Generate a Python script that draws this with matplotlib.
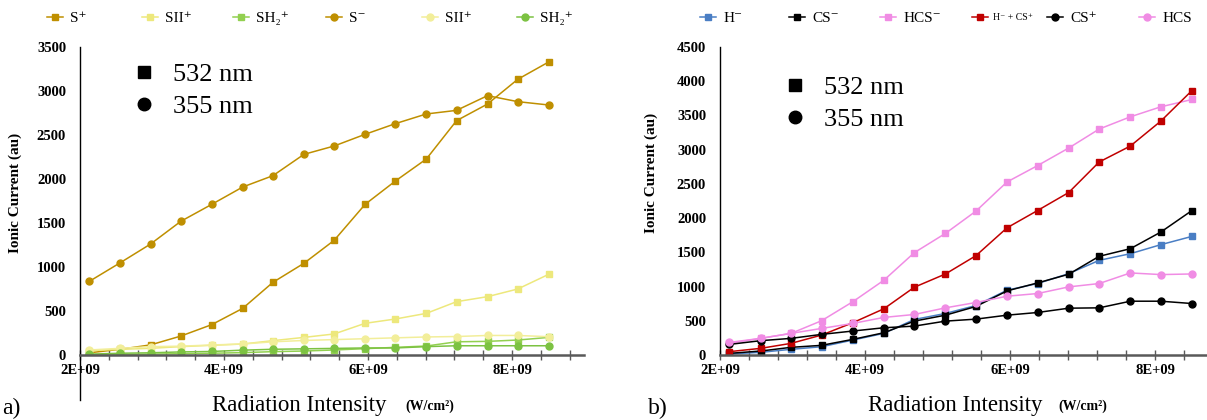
import numpy as np
import matplotlib
matplotlib.use("Agg")
import matplotlib.pyplot as plt
from matplotlib.lines import Line2D
from matplotlib.ticker import FixedLocator, MultipleLocator

plt.rcParams['font.family'] = ['Liberation Serif', 'DejaVu Serif']

# Radiation intensity (W/cm2), same 16 points in both panels
intensity = np.array([2.13, 2.56, 2.98, 3.40, 3.83, 4.26, 4.68, 5.11,
                      5.53, 5.96, 6.38, 6.81, 7.23, 7.66, 8.08, 8.51]) * 1e9

# panel a) - ionic current (au)
s_532 = [25, 65, 115, 215, 345, 530, 826, 1042, 1303, 1712, 1977, 2227, 2663, 2852, 3133, 3330]
sii_532 = [50, 64, 76, 95, 110, 125, 163, 200, 239, 360, 409, 473, 606, 663, 750, 917]
sh2_532 = [0, 5, 10, 15, 20, 27, 38, 45, 57, 72, 87, 102, 150, 155, 170, 200]
s_355 = [837, 1049, 1261, 1519, 1712, 1909, 2038, 2280, 2375, 2508, 2629, 2739, 2780, 2947, 2879, 2841]
sii_355 = [57, 76, 95, 100, 114, 125, 150, 165, 175, 185, 195, 205, 210, 222, 222, 208]
sh2_355 = [10, 20, 25, 35, 40, 55, 65, 70, 75, 80, 80, 95, 105, 105, 105, 105]

# panel b) - ionic current (au)
h_532 = [15, 39, 83, 121, 218, 316, 519, 607, 723, 947, 1044, 1189, 1383, 1480, 1612, 1733]
cs_532 = [24, 58, 112, 141, 228, 325, 495, 582, 709, 937, 1053, 1180, 1442, 1553, 1796, 2111]
hcs_532 = [170, 243, 316, 500, 777, 1092, 1495, 1777, 2102, 2529, 2767, 3024, 3301, 3480, 3626, 3733]
h_cs_532 = [49, 97, 170, 291, 471, 675, 990, 1184, 1451, 1859, 2111, 2374, 2820, 3053, 3417, 3864]
cs_355 = [155, 209, 243, 301, 350, 398, 422, 495, 524, 582, 621, 684, 689, 786, 786, 752]
hcs_355 = [184, 243, 316, 388, 461, 549, 592, 689, 767, 859, 898, 995, 1044, 1199, 1175, 1184]

labels_a = ['S⁺', 'SII⁺', 'SH₂⁺', 'S⁻', 'SII⁺', 'SH₂⁺']
labels_b = ['H⁻', 'CS⁻', 'HCS⁻', 'H⁻ + CS⁺', 'CS⁺', 'HCS']
x_ticks = [2e9, 4e9, 6e9, 8e9]
x_ticklabels = ['2E+09', '4E+09', '6E+09', '8E+09']

W, H = 1207, 420
fig = plt.figure(figsize=(W / 100, H / 100), dpi=100)
ax1 = fig.add_axes([80 / W, 65 / H, 504 / W, 308 / H])
ax2 = fig.add_axes([720 / W, 65 / H, 507.5 / W, 308 / H])

gold = '#BF8F00'
yellow = '#EDE87C'
yellow2 = '#F2EE9A'
green = '#92D050'
green2 = '#7CC242'

series_a = [(s_532, 's', gold), (sii_532, 's', yellow), (sh2_532, 's', green),
            (s_355, 'o', gold), (sii_355, 'o', yellow2), (sh2_355, 'o', green2)]
series_b = [(h_532, 's', '#4A7EC4'), (cs_532, 's', 'black'), (hcs_532, 's', '#F08CE4'),
            (h_cs_532, 's', '#C00000'), (cs_355, 'o', 'black'), (hcs_355, 'o', '#F08CE4')]

for ax, series, labels in [(ax1, series_a, labels_a), (ax2, series_b, labels_b)]:
    for (vals, mk, col), lab in zip(series, labels):
        ax.plot(intensity, vals, marker=mk, color=col, lw=1.1, ms=5, label=lab)

for ax, ymax in [(ax1, 3500), (ax2, 4500)]:
    ax.set_xlim(2e9, 9e9)
    ax.set_ylim(0, ymax)
    ax.xaxis.set_major_locator(FixedLocator(x_ticks))
    ax.set_xticklabels(x_ticklabels)
    ax.xaxis.set_minor_locator(MultipleLocator(0.4e9))
    ax.set_yticks(np.arange(0, ymax + 1, 500))
    for s in ['top', 'right']:
        ax.spines[s].set_visible(False)
    ax.spines['bottom'].set_color('#595959')
    ax.spines['bottom'].set_linewidth(1.8)
    ax.spines['left'].set_color('black')
    ax.spines['left'].set_linewidth(1.0)
    ax.tick_params(axis='x', which='both', direction='inout', length=7, width=1,
                   color='#595959', pad=3)
    ax.tick_params(axis='y', length=0, pad=10)
    for t in ax.get_xticklabels() + ax.get_yticklabels():
        t.set_fontweight('bold')
        t.set_fontsize(10.5)

# y axis of panel a runs down past the x axis
ax1.plot([0, 0], [0, -45 / 308], transform=ax1.transAxes, color='black', lw=1, clip_on=False)

# top legends, one entry per slot
def top_legend(ax, xs, sizes):
    handles, labels = ax.get_legend_handles_labels()
    for h, lab, x, fs in zip(handles, labels, xs, sizes):
        fig.legend([h], [lab], loc='center left', bbox_to_anchor=((x - 7.6) / W, 1 - 18 / H),
                   frameon=False, fontsize=fs, handlelength=15.3 / (fs * 1.389),
                   handletextpad=0.5, borderpad=0, borderaxespad=0)

top_legend(ax1, [55, 150, 241, 334, 430, 525], [11] * 6)
top_legend(ax2, [708, 797, 888, 980, 1055, 1147], [11, 11, 11, 7, 11, 11])

# wavelength key
for ax, x0, y0 in [(ax1, 131, 63), (ax2, 782, 76)]:
    keys = [Line2D([], [], marker='s', ls='none', color='black', ms=9),
            Line2D([], [], marker='o', ls='none', color='black', ms=9)]
    ax.legend(keys, ['532 nm', '355 nm'], loc='upper left', bbox_to_anchor=(x0 / W, 1 - y0 / H),
              bbox_transform=fig.transFigure, frameon=False, fontsize=19, handlelength=1.0,
              handletextpad=0.58, labelspacing=0.31, borderpad=0, borderaxespad=0)

# axis titles and panel letters
for xl, xu, xlet, ylab_x, ylab_y, let in [(212, 405, 2, 15, 193, 'a)'), (868, 1058, 648, 651, 173, 'b)')]:
    fig.text(xl / W, 1 - 406 / H, 'Radiation Intensity', fontsize=16.5, va='center', ha='left')
    fig.text(xu / W, 1 - 406 / H, '(W/cm²)', fontsize=10, fontweight='bold', va='center', ha='left')
    fig.text(xlet / W, 1 - 408 / H, let, fontsize=17, va='center', ha='left')
    fig.text(ylab_x / W, 1 - ylab_y / H, 'Ionic Current (au)', rotation=90, fontsize=11,
             fontweight='bold', ha='center', va='center')

fig.savefig('out.png', dpi=100)
